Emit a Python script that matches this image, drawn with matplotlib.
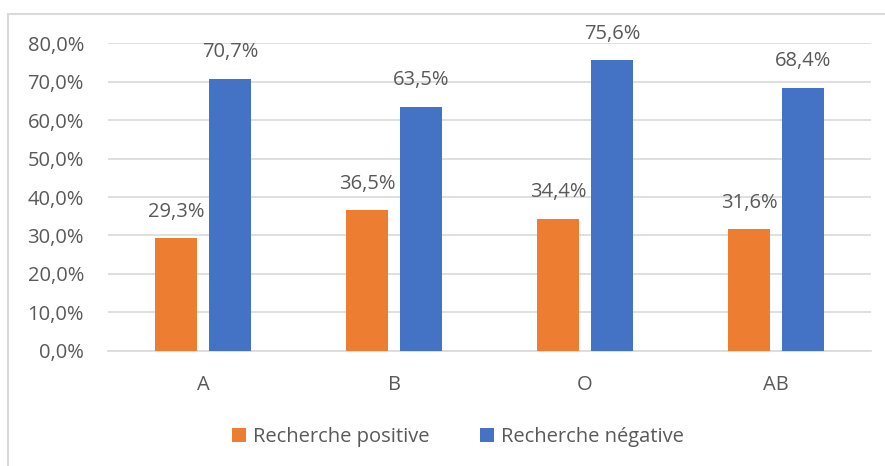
import matplotlib.pyplot as plt
import numpy as np
from matplotlib.patches import Rectangle

# données
groupes = ["A", "B", "O", "AB"]
positive = [29.3, 36.5, 34.4, 31.6]
negative = [70.7, 63.5, 75.6, 68.4]
ticks = [0, 10, 20, 30, 40, 50, 60, 70, 80]

orange = "#ED7D31"
bleu = "#4472C4"
gris_txt = "#595959"
gris_ligne = "#D9D9D9"

plt.rcParams['font.family'] = ['Open Sans', 'DejaVu Sans']
taille = 14.5

fig = plt.figure(figsize=(8.85, 4.66), dpi=100)
ax = fig.add_axes([0.1215, 0.2468, 0.8632, 0.6609])

x = np.arange(len(groupes))
w = 0.22
off = 0.141
b1 = ax.bar(x - off, positive, w, color=orange, label="Recherche positive", zorder=3)
b2 = ax.bar(x + off, negative, w, color=bleu, label="Recherche négative", zorder=3)

for bars, vals in ((b1, positive), (b2, negative)):
    for r, v in zip(bars, vals):
        ax.annotate(f"{v:.1f}%".replace(".", ","),
                    (r.get_x() + r.get_width() / 2, v),
                    xytext=(0, 19), textcoords="offset points",
                    ha="center", va="center", fontsize=taille, color=gris_txt)

ax.set_xlim(-0.5, len(groupes) - 0.5)
ax.set_ylim(0, 80)
ax.set_yticks(ticks)
ax.set_yticklabels([f"{t:.1f}%".replace(".", ",") for t in ticks])
ax.set_xticks(x)
ax.set_xticklabels(groupes)
ax.tick_params(axis="both", length=0, labelsize=taille, colors=gris_txt)
ax.tick_params(axis="y", pad=17)
ax.tick_params(axis="x", pad=17)
ax.grid(axis="y", color=gris_ligne, linewidth=1.2, zorder=0)
for s in ("top", "right", "left"):
    ax.spines[s].set_visible(False)
ax.spines["bottom"].set_color(gris_ligne)
ax.spines["bottom"].set_linewidth(1.2)

fig.legend(loc="center", bbox_to_anchor=(0.517, 0.062), ncol=2, frameon=False,
           fontsize=taille, labelcolor=gris_txt, handlelength=0.7, handleheight=0.7,
           handletextpad=0.35, columnspacing=2.5)

# cadre du graphique
fig.patches.append(Rectangle((8 / 885, -0.1), 1.2, 1 - 14 / 466 + 0.1,
                             transform=fig.transFigure, fill=False,
                             edgecolor=gris_ligne, linewidth=1.5))

fig.savefig("out.png", dpi=100)
